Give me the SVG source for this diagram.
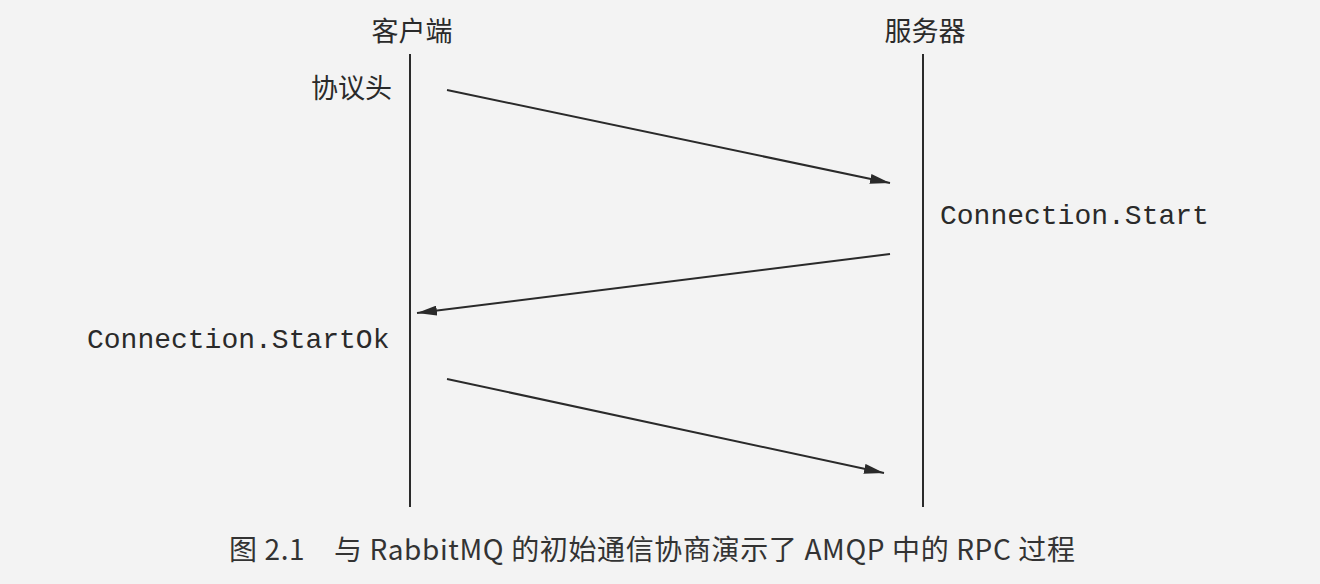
<svg xmlns="http://www.w3.org/2000/svg" width="1320" height="584" viewBox="0 0 1320 584">
<defs>
<marker id="ah" viewBox="0 0 20 10" refX="20" refY="5" markerWidth="20" markerHeight="10" markerUnits="userSpaceOnUse" orient="auto">
<path d="M0,0 L20,5 L0,10 z" fill="#2a2a2a"/>
</marker>
<style>
.cjk{font-family:"Noto Sans CJK SC","Liberation Sans",sans-serif;fill:#2a2a2a;font-size:27px}
.mono{font-family:"Liberation Mono",monospace;fill:#2a2a2a;font-size:28px}
.life{stroke:#2a2a2a;stroke-width:2}
.msg{stroke:#2a2a2a;stroke-width:2;fill:none;marker-end:url(#ah)}
.cap{font-family:"Noto Sans CJK SC","Liberation Sans",sans-serif;fill:#333;font-size:28px}
</style>
</defs>
<rect width="1320" height="584" fill="#f3f3f3"/>
<g id="client">
<text class="cjk" x="412" y="41" text-anchor="middle">客户端</text>
<line class="life" x1="410" y1="54" x2="410" y2="507"/>
</g>
<g id="server">
<text class="cjk" x="925" y="41" text-anchor="middle">服务器</text>
<line class="life" x1="923" y1="54" x2="923" y2="507"/>
</g>
<g id="label-header"><text class="cjk" x="311" y="98">协议头</text></g>
<g id="label-start"><text class="mono" x="940" y="224">Connection.Start</text></g>
<g id="label-startok"><text class="mono" x="87" y="348">Connection.StartOk</text></g>
<g id="connectors">
<line class="msg" x1="447" y1="90" x2="890" y2="183"/>
<line class="msg" x1="890" y1="254" x2="417" y2="313"/>
<line class="msg" x1="447" y1="379" x2="884" y2="473"/>
</g>
<g id="caption"><text class="cap" x="229" y="560" textLength="846" lengthAdjust="spacing">图 2.1　与 RabbitMQ 的初始通信协商演示了 AMQP 中的 RPC 过程</text></g>
</svg>
